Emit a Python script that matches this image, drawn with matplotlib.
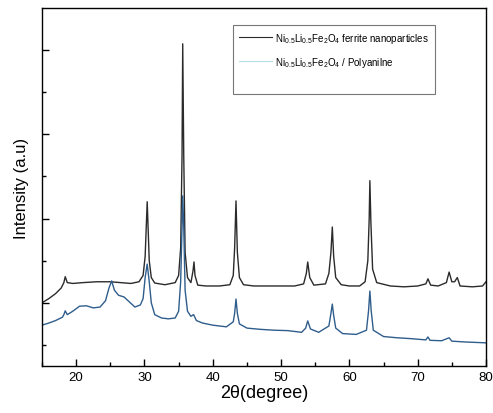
import matplotlib
matplotlib.use("Agg")
import matplotlib.pyplot as plt
from matplotlib.lines import Line2D
from matplotlib.ticker import MultipleLocator, FixedLocator

plt.rcParams['font.family'] = ['Liberation Sans', 'DejaVu Sans']
plt.rcParams['mathtext.default'] = 'regular'

# ferrite nanoparticles (upper trace)
ferrite_x = [15.0, 16.0, 17.0, 17.8, 18.2, 18.4, 18.7, 19.5, 21.0, 23.0, 25.0, 26.5, 28.0,
             29.2, 29.8, 30.1, 30.4, 30.7, 31.0, 31.5, 33.0, 34.5, 35.0, 35.3, 35.5, 35.6,
             35.75, 35.95, 36.3, 36.8, 37.1, 37.25, 37.4, 37.8, 39.0, 41.0, 42.5, 43.0, 43.2,
             43.4, 43.6, 43.9, 44.5, 46.0, 48.0, 50.0, 52.0, 53.3, 53.7, 53.9, 54.2, 54.8,
             56.5, 57.0, 57.3, 57.5, 57.7, 58.0, 58.8, 60.0, 61.5, 62.3, 62.7, 62.9, 63.0,
             63.15, 63.4, 64.0, 66.0, 68.0, 70.0, 71.2, 71.5, 71.9, 73.0, 74.2, 74.6, 75.0,
             75.4, 75.8, 76.2, 78.0, 79.5, 80.0]
ferrite_y = [100, 110, 122, 135, 148, 162, 148, 146, 148, 150, 150, 148, 146,
             150, 165, 210, 340, 200, 160, 147, 143, 148, 165, 230, 450, 715,
             450, 220, 160, 148, 175, 197, 165, 142, 140, 140, 143, 165, 230,
             342, 220, 160, 143, 140, 140, 140, 140, 145, 170, 197, 160, 142,
             145, 170, 220, 280, 210, 160, 143, 140, 140, 150, 200, 300, 390,
             290, 180, 148, 140, 138, 140, 145, 157, 142, 140, 148, 173, 150,
             150, 160, 140, 138, 140, 150]

# ferrite / polyaniline composite (lower trace)
composite_x = [15.0, 16.0, 17.0, 18.0, 18.2, 18.4, 18.7, 19.5, 20.5, 21.5, 22.5, 23.5, 24.3,
               24.8, 25.2, 25.6, 26.2, 27.0, 27.8, 28.6, 29.4, 29.8, 30.1, 30.4, 30.7, 31.0,
               31.5, 32.5, 33.5, 34.5, 35.0, 35.3, 35.5, 35.6, 35.75, 35.95, 36.3, 36.8, 37.2,
               37.6, 38.5, 40.0, 42.0, 43.0, 43.2, 43.4, 43.6, 43.9, 45.0, 47.0, 49.0, 51.0,
               53.0, 53.6, 53.9, 54.3, 55.5, 57.0, 57.3, 57.5, 57.7, 58.0, 59.0, 61.0, 62.5,
               62.8, 63.0, 63.2, 63.5, 65.0, 67.0, 69.0, 71.2, 71.5, 71.8, 73.5, 74.6, 75.0,
               77.0, 80.0]
composite_y = [47, 52, 58, 66, 72, 81, 72, 80, 92, 93, 88, 90, 105,
               135, 152, 130, 118, 114, 102, 90, 95, 110, 160, 192, 150, 100,
               72, 64, 62, 64, 80, 150, 280, 354, 280, 130, 80, 68, 72,
               58, 52, 47, 43, 55, 75, 109, 75, 50, 40, 37, 35, 34,
               30, 40, 57, 38, 30, 45, 75, 97, 70, 40, 27, 25, 35,
               80, 128, 80, 35, 20, 17, 15, 12, 19, 11, 10, 17, 9,
               7, 5]

labels = [r'Ni$_{0.5}$Li$_{0.5}$Fe$_2$O$_4$ ferrite nanoparticles',
          r'Ni$_{0.5}$Li$_{0.5}$Fe$_2$O$_4$ / Polyanilne']

fig = plt.figure(figsize=(4.93, 4.14), dpi=100)
ax = fig.add_axes([0.0852, 0.1135, 0.9006, 0.8648])

ax.plot(ferrite_x, ferrite_y, color='#2b2b2b', lw=1.0)
ax.plot(composite_x, composite_y, color='#2f5d8c', lw=1.0)

ax.set_xlim(15, 80)
ax.set_ylim(-50, 800)
ax.xaxis.set_major_locator(MultipleLocator(10))
ax.xaxis.set_minor_locator(MultipleLocator(5))
ax.yaxis.set_major_locator(FixedLocator([100, 300, 500, 700]))
ax.yaxis.set_minor_locator(FixedLocator([0, 200, 400, 600]))
ax.tick_params(which='both', direction='in', top=False, right=False, labelsize=9.5)
ax.tick_params(which='major', length=5, width=1)
ax.tick_params(which='minor', length=3, width=1)
ax.tick_params(axis='y', labelleft=False)
for s in ax.spines.values():
    s.set_linewidth(1.0)

ax.set_xlabel('2θ(degree)', fontsize=13, labelpad=1)
ax.set_ylabel('Intensity (a.u)', fontsize=12, labelpad=6)

# legend: proxy handles (the second one is drawn pale in the original legend)
handles = [Line2D([], [], color='#2b2b2b', lw=0.8),
           Line2D([], [], color='#b5dde4', lw=0.8),
           Line2D([], [], color='none')]
leg = ax.legend(handles, labels + [' '], loc='upper left', bbox_to_anchor=(0.43, 0.9525),
                borderaxespad=0, fontsize=7, frameon=True, fancybox=False,
                edgecolor='#777777', framealpha=1, handlelength=3.4, handletextpad=0.35,
                labelspacing=1.0, borderpad=0.6)
leg.get_frame().set_linewidth(0.8)

fig.savefig('out.png', dpi=100)
